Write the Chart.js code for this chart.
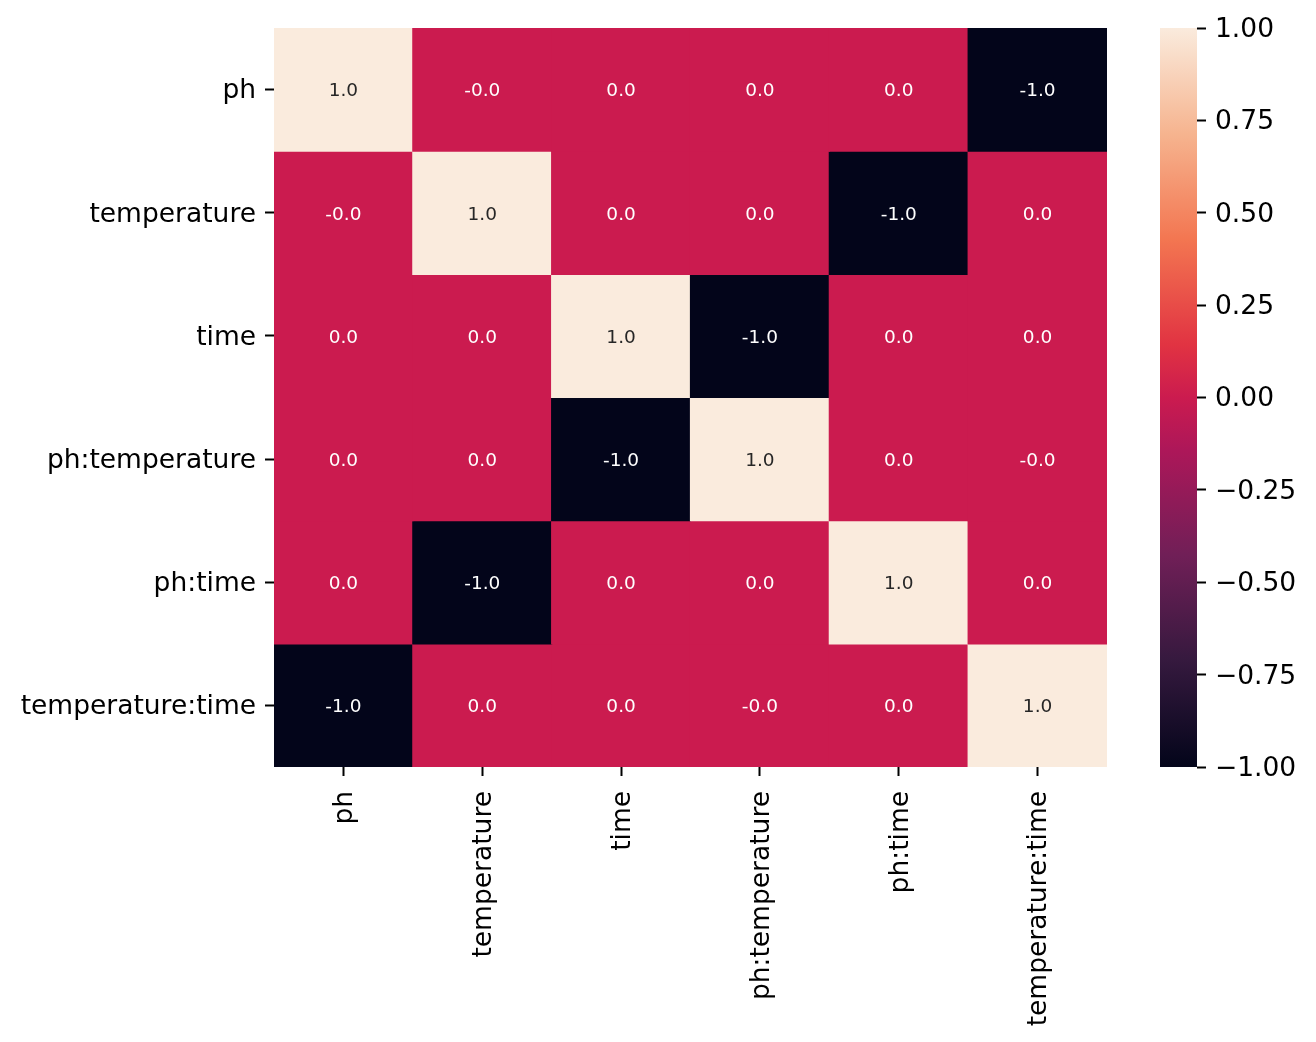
<!DOCTYPE html>
<html>
<head>
<meta charset="utf-8">
<script src="https://cdn.jsdelivr.net/npm/chart.js@4.4.1/dist/chart.umd.min.js"></script>
<style>
  body { margin: 0; background: #fff; }
  #wrap { position: relative; width: 1316px; height: 1042px; }
  #heat { position: absolute; left: 0; top: 0; }
  #cbar { position: absolute; left: 1160px; top: 0; }
</style>
</head>
<body>
<div id="wrap">
  <canvas id="heat" width="1316" height="1042"></canvas>
  <canvas id="cbar" width="156" height="1042"></canvas>
</div>
<script>
const variables = ['ph', 'temperature', 'time', 'ph:temperature', 'ph:time', 'temperature:time'];

// correlation rows, top to bottom (tiny negatives print as -0.0)
const phRow          = [1.0, -0.001, 0.0, 0.0, 0.0, -1.0];
const temperatureRow = [-0.001, 1.0, 0.0, 0.0, -1.0, 0.0];
const timeRow        = [0.0, 0.0, 1.0, -1.0, 0.0, 0.0];
const phTempRow      = [0.0, 0.0, -1.0, 1.0, 0.0, -0.001];
const phTimeRow      = [0.0, -1.0, 0.0, 0.0, 1.0, 0.0];
const tempTimeRow    = [-1.0, 0.0, 0.0, -0.001, 0.0, 1.0];
const corr = [phRow, temperatureRow, timeRow, phTempRow, phTimeRow, tempTimeRow];

const colorbarTicks = [-1.0, -0.75, -0.5, -0.25, 0.0, 0.25, 0.5, 0.75, 1.0];
const vmin = -1, vmax = 1;

// seaborn "rocket", sampled
const rocket = [
  [0.0,   [3, 5, 26]],
  [0.143, [53, 25, 62]],
  [0.286, [112, 31, 87]],
  [0.429, [173, 23, 89]],
  [0.5,   [203, 27, 79]],
  [0.571, [225, 51, 66]],
  [0.714, [243, 118, 81]],
  [0.857, [246, 180, 143]],
  [1.0,   [250, 235, 221]]
];

function rocketRGB(t) {
  t = Math.max(0, Math.min(1, t));
  for (let k = 1; k < rocket.length; k++) {
    const [t1, c1] = rocket[k];
    const [t0, c0] = rocket[k - 1];
    if (t <= t1) {
      const f = (t - t0) / (t1 - t0);
      return c0.map((c, n) => Math.round(c + (c1[n] - c) * f));
    }
  }
  return rocket[rocket.length - 1][1];
}
const toCss = c => `rgb(${c[0]},${c[1]},${c[2]})`;
const valueColor = v => toCss(rocketRGB((v - vmin) / (vmax - vmin)));

function luminance(c) {
  const lin = c.map(x => {
    x /= 255;
    return x <= 0.03928 ? x / 12.92 : Math.pow((x + 0.055) / 1.055, 2.4);
  });
  return 0.2126 * lin[0] + 0.7152 * lin[1] + 0.0722 * lin[2];
}
const textColor = v => luminance(rocketRGB((v - vmin) / (vmax - vmin))) > 0.408 ? '#262626' : '#ffffff';

const font = 'DejaVu Sans';
const tickFont = { family: font, size: 26.5 };

// write the numbers into each cell
const cellLabels = {
  id: 'cellLabels',
  afterDatasetsDraw(chart) {
    const { ctx, scales: { x, y } } = chart;
    ctx.save();
    ctx.font = `18.5px "${font}"`;
    ctx.textAlign = 'center';
    ctx.textBaseline = 'middle';
    corr.forEach((row, i) => {
      row.forEach((v, j) => {
        ctx.fillStyle = textColor(v);
        ctx.fillText(v.toFixed(1), x.getPixelForValue(j), y.getPixelForValue(i + 0.5) + 2);
      });
    });
    ctx.restore();
  }
};

const tickGrid = {
  display: true,
  offset: false,
  drawOnChartArea: false,
  drawTicks: true,
  tickLength: 9,
  tickWidth: 2,
  color: '#000'
};

new Chart(document.getElementById('heat'), {
  type: 'bar',
  data: {
    labels: variables,
    datasets: corr.map((row, i) => ({
      data: row.map(() => [i, i + 1]),
      backgroundColor: row.map(valueColor),
      borderWidth: 0,
      inflateAmount: 0.6,
      grouped: false,
      barPercentage: 1,
      categoryPercentage: 1
    }))
  },
  options: {
    responsive: false,
    animation: false,
    devicePixelRatio: 1,
    layout: { padding: { top: 28, right: 209, bottom: 0, left: 0 } },
    plugins: { legend: { display: false }, tooltip: { enabled: false } },
    scales: {
      x: {
        type: 'category',
        offset: true,
        grid: tickGrid,
        border: { display: false },
        ticks: {
          color: '#000',
          font: tickFont,
          padding: 15,
          labelOffset: 2,
          minRotation: 90,
          maxRotation: 90,
          autoSkip: false
        },
        afterFit: s => { s.height = 275; }
      },
      y: {
        type: 'linear',
        min: 0,
        max: 6,
        reverse: true,
        afterBuildTicks: s => { s.ticks = variables.map((_, i) => ({ value: i + 0.5 })); },
        grid: tickGrid,
        border: { display: false },
        ticks: {
          color: '#000',
          font: tickFont,
          padding: 9,
          labelOffset: 2,
          callback: (v, i) => variables[i]
        },
        afterFit: s => { s.width = 274; }
      }
    }
  },
  plugins: [cellLabels]
});

// colour bar
function barGradient(chart) {
  const area = chart.chartArea;
  if (!area) return valueColor(0);
  const g = chart.ctx.createLinearGradient(0, area.bottom, 0, area.top);
  rocket.forEach(([t, c]) => g.addColorStop(t, toCss(c)));
  return g;
}

new Chart(document.getElementById('cbar'), {
  type: 'bar',
  data: {
    labels: [''],
    datasets: [{
      data: [[vmin, vmax]],
      backgroundColor: ctx => barGradient(ctx.chart),
      borderWidth: 0,
      barPercentage: 1,
      categoryPercentage: 1
    }]
  },
  options: {
    responsive: false,
    animation: false,
    devicePixelRatio: 1,
    layout: { padding: { top: 28, right: 0, bottom: 275, left: 0 } },
    plugins: { legend: { display: false }, tooltip: { enabled: false } },
    scales: {
      x: { display: false },
      y: {
        position: 'right',
        min: vmin,
        max: vmax,
        afterBuildTicks: s => { s.ticks = colorbarTicks.map(v => ({ value: v })); },
        grid: tickGrid,
        border: { display: false },
        ticks: {
          color: '#000',
          font: tickFont,
          padding: 9,
          labelOffset: 2,
          callback: v => (v < 0 ? '\u2212' : '') + Math.abs(v).toFixed(2)
        },
        afterFit: s => { s.width = 119; }
      }
    }
  }
});
</script>
</body>
</html>
